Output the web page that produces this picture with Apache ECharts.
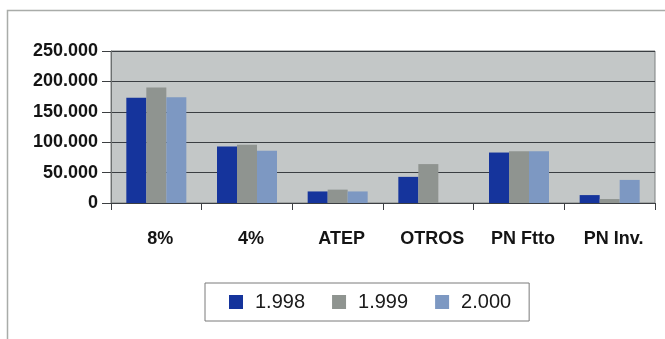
<!DOCTYPE html>
<html>
<head>
<meta charset="utf-8">
<script src="https://cdn.jsdelivr.net/npm/echarts@6/dist/echarts.min.js"></script>
<style>
  html, body { margin: 0; padding: 0; background: #ffffff; }
  #chart { width: 665px; height: 339px; }
</style>
</head>
<body>
<div id="chart"></div>
<script>
// Categories and yearly values
const categories = ['8%', '4%', 'ATEP', 'OTROS', 'PN Ftto', 'PN Inv.'];
const years = ['1.998', '1.999', '2.000'];
const values1998 = [173000, 93000, 19000, 43000, 83000, 13000];
const values1999 = [190000, 96000, 22000, 64000, 85000, 6500];
const values2000 = [174000, 86000, 19000, 0, 85000, 38000];
const yTicks = { min: 0, max: 250000, interval: 50000 };

const seriesColors = ['#15349c', '#8f9490', '#7d98c2'];

// Spanish-style thousands separator: 250000 -> "250.000"
function fmt(v) {
  return String(Math.round(v)).replace(/\B(?=(\d{3})+(?!\d))/g, '.');
}

const chart = echarts.init(document.getElementById('chart'), null, { renderer: 'canvas' });
const allValues = [values1998, values1999, values2000];

chart.setOption({
  animation: false,
  backgroundColor: '#ffffff',
  textStyle: { fontFamily: 'Liberation Sans, Arial, sans-serif' },
  graphic: [{
    type: 'rect',
    shape: { x: 7.5, y: 10.5, width: 720, height: 400 },
    style: { fill: 'none', stroke: '#a9aca9', lineWidth: 1.5 },
    silent: true
  }],
  grid: {
    left: 111, right: 10, top: 51, bottom: 136,
    show: true,
    backgroundColor: '#c3c7c7',
    borderColor: '#7c8080',
    borderWidth: 1
  },
  legend: {
    data: years,
    left: 205, top: 283,
    orient: 'horizontal',
    itemWidth: 14, itemHeight: 14,
    itemGap: 27,
    icon: 'rect',
    padding: [9, 18, 9, 24],
    borderColor: '#7a7a7a',
    borderWidth: 1,
    backgroundColor: '#ffffff',
    textStyle: { fontSize: 20, lineHeight: 20, color: '#1a1a1a', padding: [0, 0, 0, 7],
                 fontFamily: 'Liberation Sans, Arial, sans-serif' }
  },
  xAxis: {
    type: 'category',
    data: categories,
    axisLine: { lineStyle: { color: '#3c3f42', width: 1 } },
    axisTick: { show: true, length: 7, lineStyle: { color: '#3c3f42' } },
    axisLabel: {
      margin: 27, fontSize: 18, fontWeight: 'bold', color: '#141414',
      padding: [0, 0, 0, 8]
    },
    splitLine: { show: false }
  },
  yAxis: {
    type: 'value',
    min: yTicks.min, max: yTicks.max, interval: yTicks.interval,
    axisLine: { show: true, lineStyle: { color: '#6c7070' } },
    axisTick: { show: true, length: 9, lineStyle: { color: '#3c3f42' } },
    axisLabel: {
      margin: 13, fontSize: 18, fontWeight: 'bold', color: '#141414',
      formatter: fmt
    },
    splitLine: { show: true, lineStyle: { color: '#3a3e42', width: 1.2 } }
  },
  series: years.map((name, i) => ({
    name: name,
    type: 'bar',
    data: allValues[i],
    barWidth: 20,
    barGap: '0%',
    itemStyle: { color: seriesColors[i] }
  }))
});
</script>
</body>
</html>
